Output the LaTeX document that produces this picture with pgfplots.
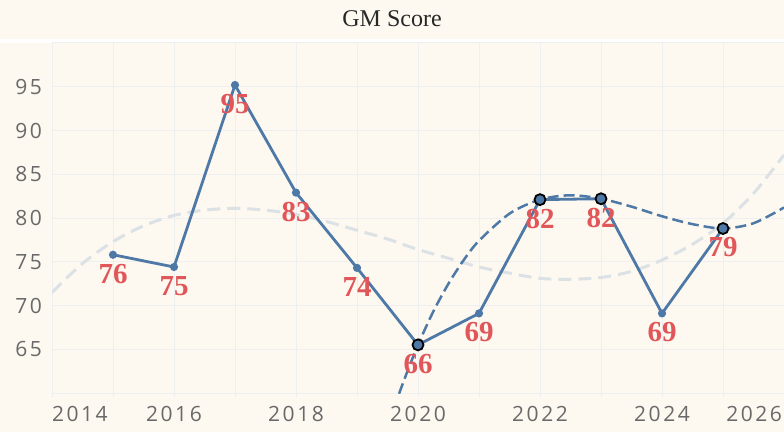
\documentclass[border=0pt]{standalone}
\usepackage{pgfplots}
\pgfplotsset{compat=1.18}
\usepackage{fontspec}
\setmainfont{Liberation Serif}
\newfontfamily\tickfont[LetterSpace=12]{Open Sans}
\definecolor{bg}{RGB}{253,249,240}
\definecolor{gridc}{RGB}{237,239,240}
\definecolor{lineblue}{RGB}{78,121,167}
\definecolor{labred}{RGB}{225,87,89}
\definecolor{fitgray}{RGB}{219,225,228}
\definecolor{tickgray}{RGB}{105,105,105}
\definecolor{titlec}{RGB}{40,40,40}

\pgfplotstableread{
x y lab
2015 75.8 76
2016 74.4 75
2017 95.2 95
2018 82.9 83
2019 74.3 74
2020 65.5 66
2021 69.1 69
2022 82.1 82
2023 82.2 82
2024 69.1 69
2025 78.8 79
}\scores

\pgfplotstableread{
x y
2020 65.5
2022 82.1
2023 82.2
2025 78.8
}\highlights

\pgfplotstableread{
x y
2019.6 58.2
2019.8 62.0
2020.0 65.5
2020.25 69.3
2020.5 72.5
2020.75 75.2
2021.0 77.4
2021.5 80.5
2022.0 82.1
2022.5 82.6
2023.0 82.2
2023.5 81.3
2024.0 80.2
2024.5 79.3
2025.0 78.8
2025.5 79.4
2026.0 81.2
}\bluefit

\pgfplotstableread{
x y
2014.0 71.5
2014.5 74.8
2015.0 77.3
2015.5 79.1
2016.0 80.3
2016.5 80.9
2017.0 81.1
2017.5 80.9
2018.0 80.4
2018.5 79.6
2019.0 78.6
2019.5 77.6
2020.0 76.4
2020.5 75.4
2021.0 74.4
2021.5 73.7
2022.0 73.1
2022.5 73.0
2023.0 73.2
2023.5 73.9
2024.0 75.2
2024.5 77.0
2025.0 79.4
2025.5 82.8
2026.0 87.2
}\grayfit

\begin{document}
\begin{tikzpicture}[x=1pt,y=1pt]
\useasboundingbox (0,0) rectangle (784,432);
\fill[bg] (0,0) rectangle (784,432);
\fill[white] (0,389) rectangle (784,393);
\node[font=\fontsize{24}{28}\selectfont, text=titlec, anchor=center] at (392,413) {GM Score};
\begin{axis}[
  at={(52pt,39pt)}, anchor=south west,
  scale only axis, width=732pt, height=350pt,
  xmin=2014, xmax=2026, ymin=60, ymax=100,
  axis line style={draw=none},
  xtick={2014,2015,2016,2017,2018,2019,2020,2021,2022,2023,2024,2025,2026},
  xticklabels={\makebox[0pt][l]{2014},,2016,,2018,,2020,,2022,,2024,,\makebox[0pt][r]{2026\hspace{2pt}}},
  ytick={60,65,70,75,80,85,90,95,100},
  yticklabels={,65,70,75,80,85,90,95,},
  grid=major,
  grid style={gridc, line width=1pt},
  xtick pos=lower, ytick pos=left,
  tick align=outside,
  major tick length=4pt,
  xtick style={draw=gridc, line width=1pt},
  ytick style={draw=none},
  xticklabel style={font=\tickfont\fontsize{21}{24}\selectfont, text=tickgray, anchor=north, inner sep=0pt, yshift=-9pt},
  yticklabel style={font=\tickfont\fontsize{21}{24}\selectfont, text=tickgray, anchor=east, inner sep=0pt, xshift=-6pt},
]
\addplot[fitgray, line width=3pt, dash pattern=on 13pt off 7pt, smooth] table {\grayfit};
\addplot[lineblue, line width=2.5pt, dash pattern=on 11pt off 5pt, smooth] table {\bluefit};
\addplot[lineblue, line width=2.8pt, mark=*, mark size=2.6pt, mark options={solid, fill=lineblue, draw=lineblue},
  nodes near coords, point meta=explicit symbolic,
  every node near coord/.style={font=\fontsize{29}{31}\selectfont\bfseries, text=labred, anchor=center, yshift=-19pt}]
  table[meta=lab] {\scores};
\addplot[only marks, mark=*, mark size=5.5pt, mark options={fill=lineblue, draw=black, line width=1.8pt}] table {\highlights};
\end{axis}
\end{tikzpicture}
\end{document}
